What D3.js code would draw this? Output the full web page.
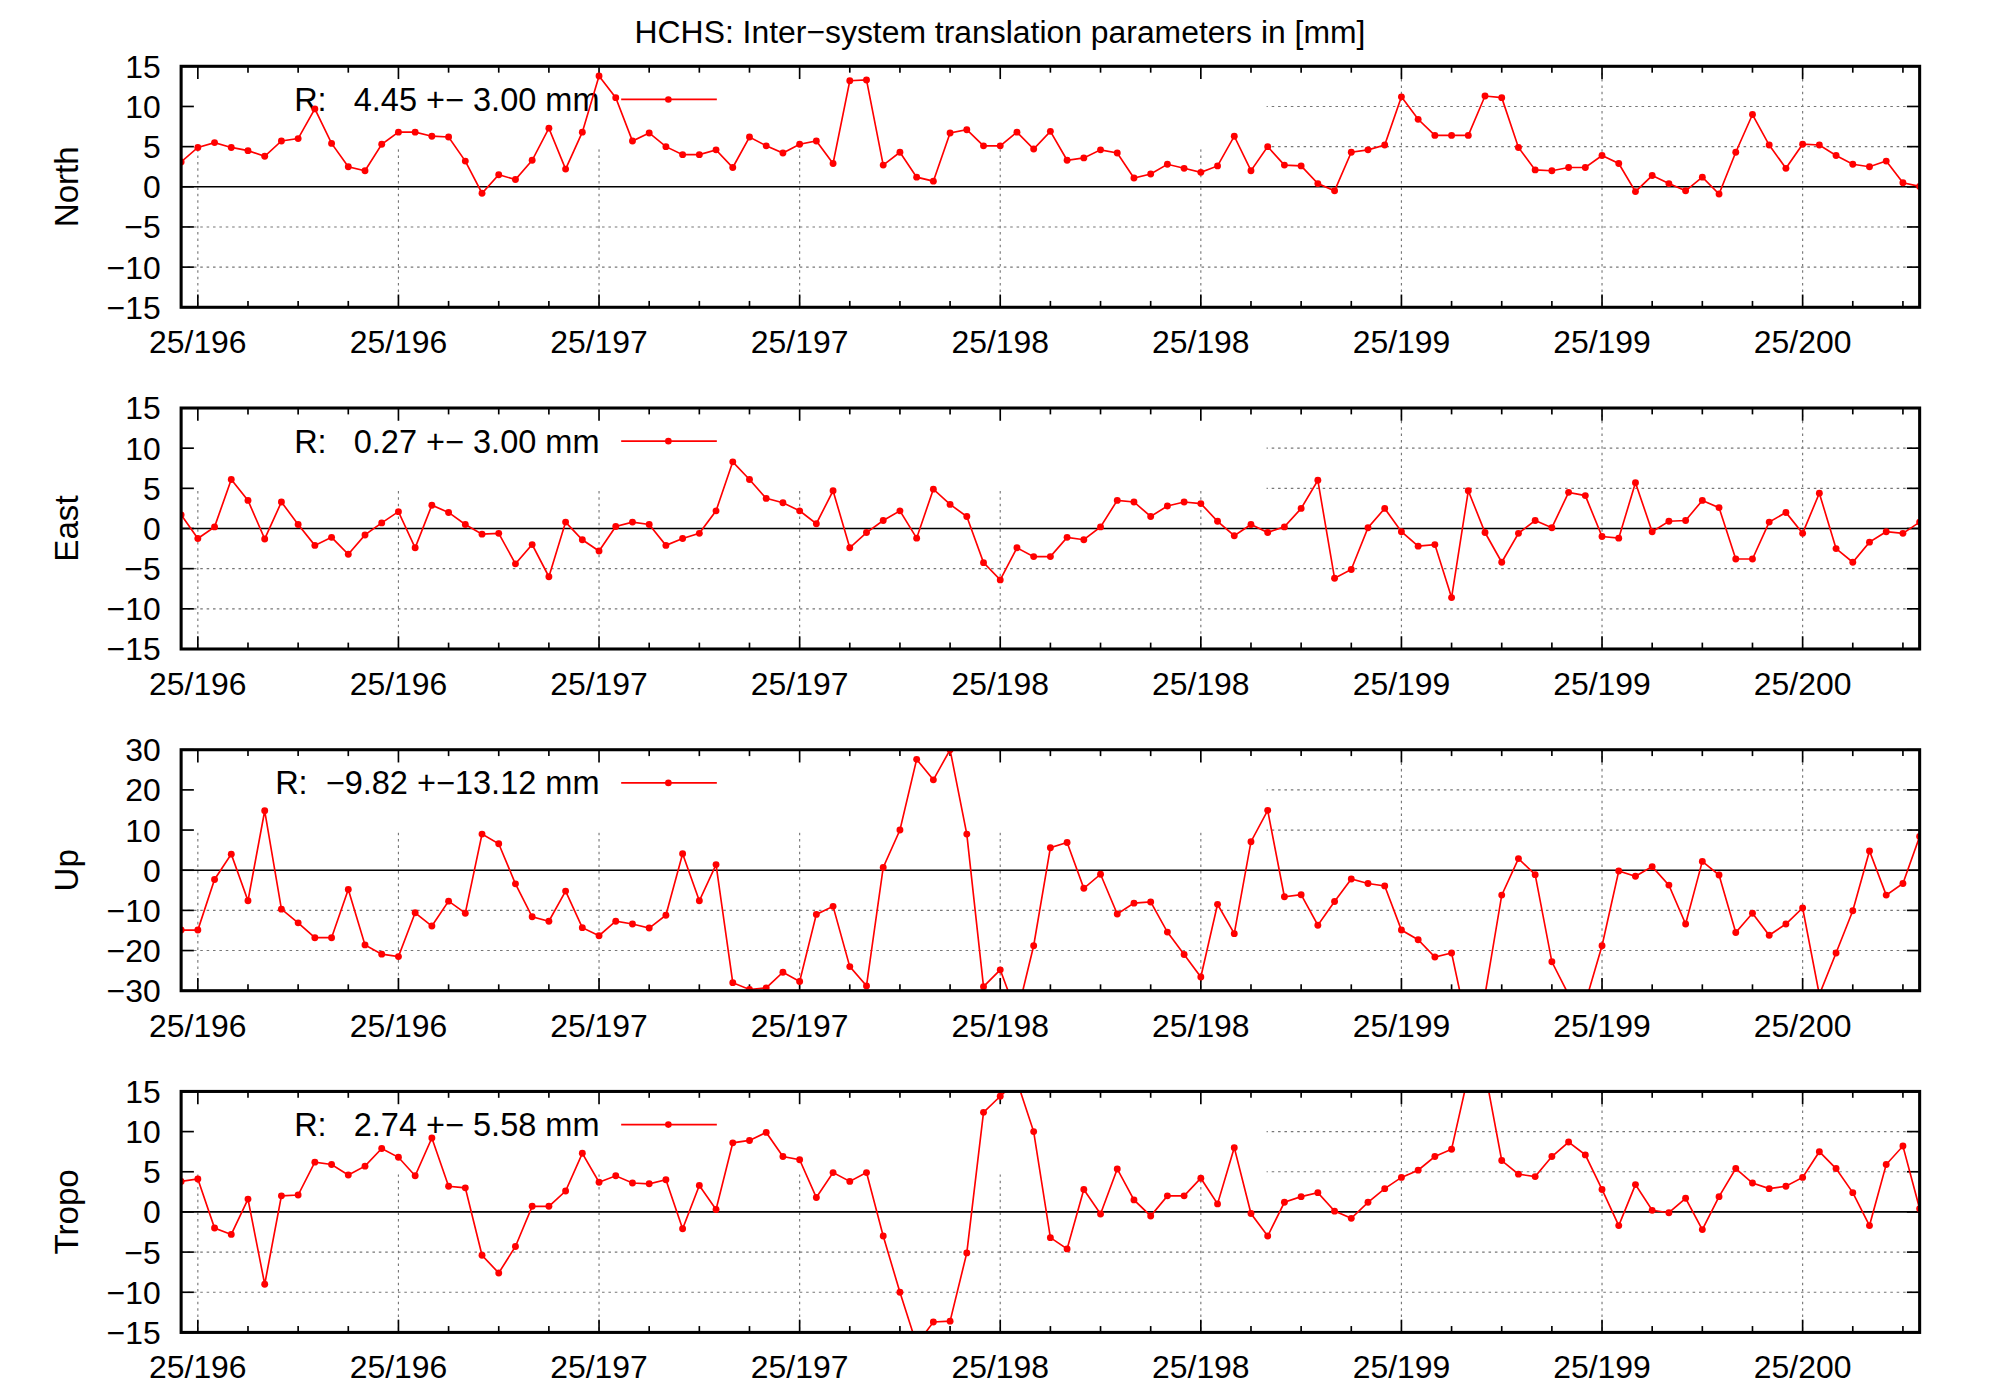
<!DOCTYPE html>
<html><head><meta charset="utf-8">
<script src="https://cdn.jsdelivr.net/npm/d3@7"></script>
<style>body{margin:0;background:#fff}svg{display:block}text{font-family:"Liberation Sans",Arial,sans-serif}</style>
</head><body>
<svg id="c" width="2000" height="1400" viewBox="0 0 1568 1098" preserveAspectRatio="none"></svg>
<script>
const title = "HCHS: Inter\u2212system translation parameters in [mm]";
const panelNames = ["North","East","Up","Tropo"];
const legendTexts = ["R:   4.45 +\u2212 3.00 mm","R:   0.27 +\u2212 3.00 mm","R:  \u22129.82 +\u221213.12 mm","R:   2.74 +\u2212 5.58 mm"];
const xTickLabels = ["25/196","25/196","25/197","25/197","25/198","25/198","25/199","25/199","25/200"];
const north = [3.1,4.9,5.5,4.9,4.5,3.8,5.7,6.0,9.7,5.4,2.5,2.0,5.3,6.8,6.8,6.3,6.2,3.2,-0.8,1.5,0.9,3.3,7.3,2.2,6.8,13.8,11.1,5.7,6.7,5.0,4.0,4.0,4.6,2.4,6.2,5.1,4.2,5.3,5.7,2.9,13.2,13.3,2.7,4.3,1.2,0.7,6.7,7.1,5.1,5.1,6.8,4.7,6.9,3.3,3.6,4.6,4.2,1.1,1.6,2.8,2.3,1.8,2.6,6.3,2.0,5.0,2.7,2.6,0.4,-0.5,4.3,4.6,5.2,11.2,8.4,6.4,6.4,6.4,11.3,11.1,4.9,2.1,2.0,2.4,2.4,3.9,2.9,-0.6,1.4,0.4,-0.5,1.2,-0.9,4.3,9.0,5.2,2.3,5.3,5.2,3.9,2.8,2.5,3.2,0.5,0.05];
const east = [1.7,-1.25,0.2,6.1,3.5,-1.3,3.3,0.5,-2.1,-1.1,-3.2,-0.8,0.7,2.1,-2.4,2.9,2.0,0.5,-0.7,-0.6,-4.4,-2.0,-6.0,0.8,-1.4,-2.8,0.25,0.8,0.5,-2.1,-1.25,-0.6,2.2,8.3,6.1,3.75,3.2,2.2,0.6,4.7,-2.4,-0.5,1.0,2.2,-1.2,4.9,3.0,1.5,-4.25,-6.4,-2.4,-3.5,-3.5,-1.1,-1.4,0.2,3.5,3.3,1.5,2.8,3.3,3.1,0.9,-0.9,0.5,-0.5,0.2,2.5,6.0,-6.2,-5.1,0.1,2.5,-0.4,-2.2,-2.0,-8.6,4.7,-0.5,-4.2,-0.6,1.0,0.1,4.5,4.1,-1.0,-1.2,5.7,-0.4,0.9,1.0,3.5,2.6,-3.8,-3.8,0.8,2.0,-0.6,4.4,-2.5,-4.2,-1.7,-0.4,-0.6,0.8];
const up = [-14.9,-14.9,-2.3,4.0,-7.6,14.8,-9.7,-13.1,-16.8,-16.8,-4.8,-18.6,-20.9,-21.5,-10.6,-13.9,-7.7,-10.7,9.0,6.6,-3.4,-11.6,-12.7,-5.2,-14.3,-16.3,-12.7,-13.4,-14.4,-11.2,4.1,-7.6,1.4,-28.0,-29.7,-29.3,-25.4,-27.7,-11.0,-9.0,-24.0,-28.8,0.7,10.0,27.6,22.5,30.0,9.0,-29.0,-24.8,-36.0,-18.8,5.6,6.9,-4.5,-1.0,-10.9,-8.2,-7.9,-15.4,-21.0,-26.6,-8.5,-15.8,7.1,14.9,-6.6,-6.1,-13.7,-7.8,-2.2,-3.3,-3.9,-14.9,-17.3,-21.6,-20.6,-40.0,-31.0,-6.2,2.9,-1.1,-22.8,-31.0,-33.0,-18.8,-0.2,-1.5,0.9,-3.7,-13.4,2.2,-1.2,-15.5,-10.7,-16.2,-13.4,-9.4,-31.0,-20.6,-10.1,4.8,-6.2,-3.3,8.4];
const tropo = [3.8,4.1,-2.0,-2.8,1.6,-9.0,2.0,2.1,6.2,5.9,4.6,5.7,7.9,6.8,4.5,9.2,3.2,3.0,-5.4,-7.6,-4.3,0.7,0.7,2.6,7.3,3.7,4.5,3.6,3.5,4.0,-2.1,3.3,0.3,8.6,8.9,9.9,6.9,6.5,1.8,4.9,3.8,4.9,-3.0,-10.0,-16.5,-13.7,-13.6,-5.1,12.4,14.4,16.3,10.0,-3.2,-4.6,2.8,-0.25,5.35,1.5,-0.5,2.0,2.0,4.2,1.0,8.0,-0.2,-3.0,1.2,1.9,2.4,0.1,-0.8,1.2,2.9,4.3,5.2,6.9,7.8,17.0,17.5,6.4,4.7,4.4,6.9,8.7,7.1,2.8,-1.7,3.4,0.2,-0.1,1.7,-2.2,1.9,5.4,3.6,2.9,3.2,4.3,7.5,5.4,2.4,-1.7,5.9,8.2,0.4];
const series = [north, east, up, tropo];
const yDomains = [[-15,15],[-15,15],[-30,30],[-15,15]];
const yTickVals = [d3.range(-15,16,5), d3.range(-15,16,5), d3.range(-30,31,10), d3.range(-15,16,5)];

const svg = d3.select("#c");
const L = 142, R = 1505, H = 189;
const tops = [52,320,588,856];
const n = north.length;
const x = d3.scaleLinear().domain([0, n-1]).range([L, R]);
const majorIdx = d3.range(1, n, 12);
const minorIdx = d3.range(1, n, 3);
const keyRight = 992, keyH = 64;

svg.append("text").attr("x", 784).attr("y", 34).attr("text-anchor","middle")
  .attr("font-size", 25).text(title);

series.forEach((data, p) => {
  const top = tops[p], bot = top + H;
  const y = d3.scaleLinear().domain(yDomains[p]).range([bot, top]);
  const g = svg.append("g");
  const clipId = "clip"+p;
  svg.append("clipPath").attr("id", clipId).append("rect")
    .attr("x", L).attr("y", top).attr("width", R-L).attr("height", H);
  const grid = g.append("g").attr("stroke","#777").attr("stroke-width",0.9).attr("stroke-dasharray","2,3");
  yTickVals[p].filter(v => v !== 0 && v !== yDomains[p][0] && v !== yDomains[p][1]).forEach(v => {
    grid.append("line").attr("x1", L).attr("x2", R).attr("y1", y(v)).attr("y2", y(v));
  });
  majorIdx.forEach(i => {
    grid.append("line").attr("x1", x(i)).attr("x2", x(i)).attr("y1", top).attr("y2", bot);
  });
  g.append("line").attr("x1", L).attr("x2", R).attr("y1", y(0)).attr("y2", y(0))
    .attr("stroke","#000").attr("stroke-width",1.3);
  g.append("rect").attr("x", L+1).attr("y", top+1).attr("width", keyRight-L).attr("height", keyH).attr("fill","#fff");
  const tk = g.append("g").attr("stroke","#000").attr("stroke-width",1.3);
  minorIdx.forEach(i => {
    const len = majorIdx.includes(i) ? 10 : 5;
    tk.append("line").attr("x1", x(i)).attr("x2", x(i)).attr("y1", bot).attr("y2", bot-len);
    tk.append("line").attr("x1", x(i)).attr("x2", x(i)).attr("y1", top).attr("y2", top+len);
  });
  yTickVals[p].forEach(v => {
    tk.append("line").attr("x1", L).attr("x2", L+10).attr("y1", y(v)).attr("y2", y(v));
    tk.append("line").attr("x1", R).attr("x2", R-10).attr("y1", y(v)).attr("y2", y(v));
  });
  yTickVals[p].forEach(v => {
    g.append("text").attr("x", 126).attr("y", y(v)+9).attr("text-anchor","end")
      .attr("font-size", 25).text(v < 0 ? "\u2212" + Math.abs(v) : String(v));
  });
  majorIdx.forEach((i, k) => {
    g.append("text").attr("x", x(i)).attr("y", bot+36).attr("text-anchor","middle")
      .attr("font-size", 25).text(xTickLabels[k]);
  });
  g.append("text").attr("transform", `translate(61,${top+H/2}) rotate(-90)`)
    .attr("text-anchor","middle").attr("font-size", 26).text(panelNames[p]);
  const ly = top + 26;
  g.append("text").attr("x", 470).attr("y", ly+9).attr("text-anchor","end")
    .attr("font-size", 25.5).style("white-space","pre").attr("xml:space","preserve").text(legendTexts[p]);
  g.append("line").attr("x1", 487).attr("x2", 562).attr("y1", ly).attr("y2", ly)
    .attr("stroke","#f00").attr("stroke-width",1.3);
  g.append("circle").attr("cx", 524).attr("cy", ly).attr("r", 2.6).attr("fill","#f00");
  const dg = g.append("g").attr("clip-path", `url(#${clipId})`);
  dg.append("path").datum(data)
    .attr("d", d3.line().x((d,i) => x(i)).y(d => y(d)))
    .attr("fill","none").attr("stroke","#f00").attr("stroke-width",1.3);
  dg.selectAll("circle").data(data).join("circle")
    .attr("cx", (d,i) => x(i)).attr("cy", d => y(d)).attr("r", 2.7).attr("fill","#f00");
  g.append("rect").attr("x", L).attr("y", top).attr("width", R-L).attr("height", H)
    .attr("fill","none").attr("stroke","#000").attr("stroke-width",2.4);
});
</script>
</body></html>
